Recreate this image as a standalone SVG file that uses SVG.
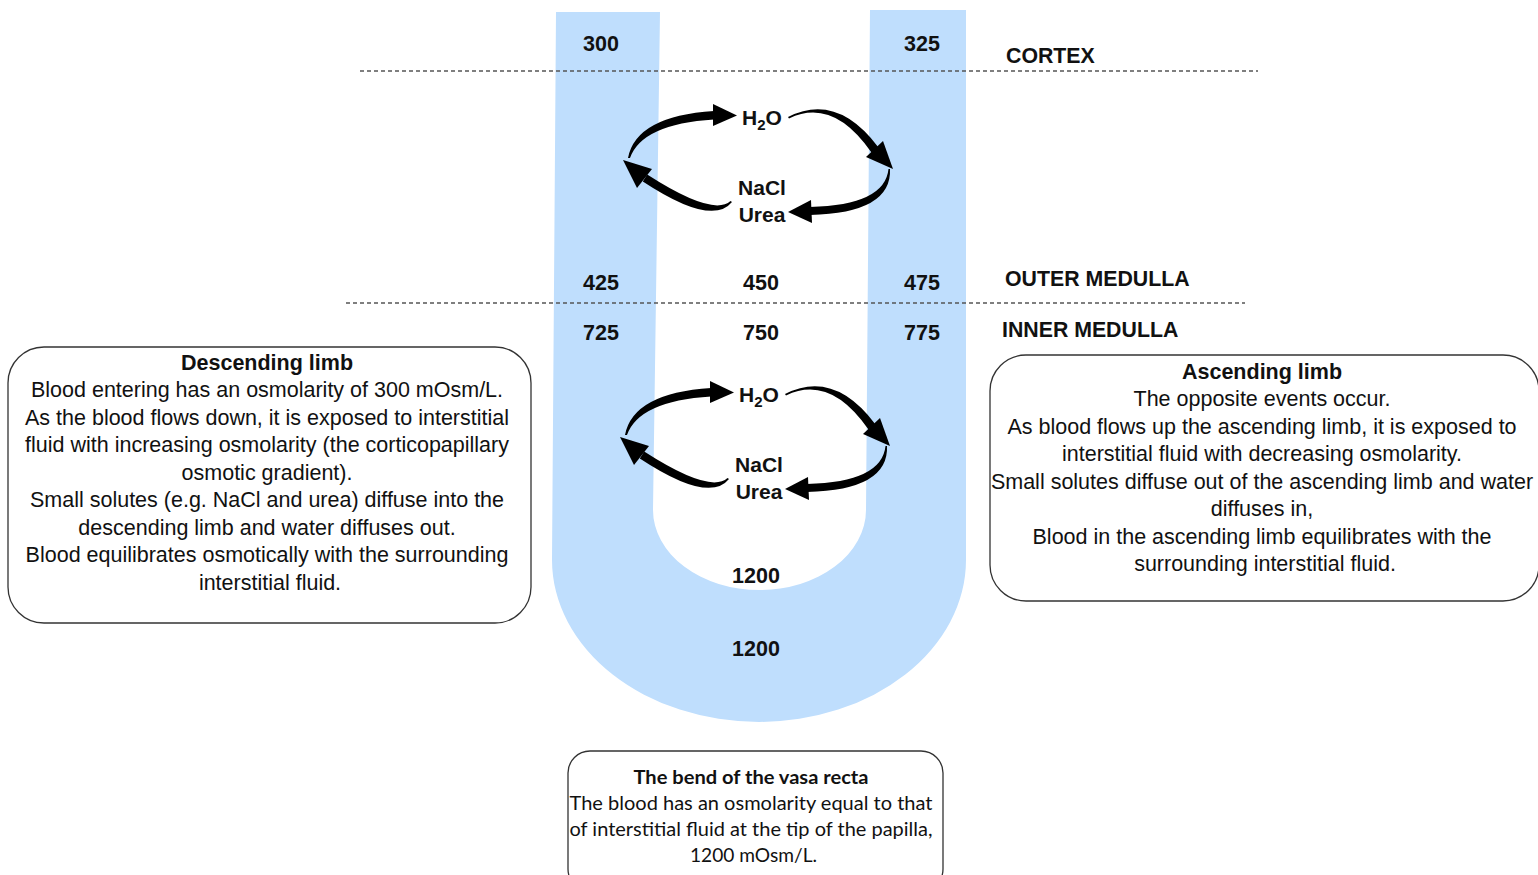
<svg xmlns="http://www.w3.org/2000/svg" width="1538" height="875" viewBox="0 0 1538 875">
  <style>
    .vessel { fill: #bfdefd; }
    .zone { stroke: #555; stroke-width: 1.5; stroke-dasharray: 4 3; fill: none; }
    .num { font-family: "Liberation Sans", Arial, sans-serif; font-weight: bold; font-size: 21.5px; fill: #111; text-anchor: middle; }
    .zlabel { font-family: "Liberation Sans", Arial, sans-serif; font-weight: bold; font-size: 21.3px; fill: #111; }
    .chem { font-family: "Liberation Sans", Arial, sans-serif; font-weight: bold; font-size: 21px; fill: #111; text-anchor: middle; }
    .sub { font-size: 15px; }
    .flow { fill: #000; }
    .box { fill: #fff; stroke: #333; stroke-width: 1.3; }
    .note { font-family: "Liberation Sans", Arial, sans-serif; font-size: 21.5px; fill: #111; text-anchor: middle; }
    .note .t { font-weight: bold; }
    .note2 { font-family: Lato, "Open Sans", sans-serif; font-size: 19.5px; fill: #111; text-anchor: middle; }
    .note2 .t { font-weight: bold; }
  </style>

  <!-- vasa recta: U-shaped vessel -->
  <g id="vasa-recta">
    <path class="vessel" d="M556,12 L660,12 L653,510 A106.5,80 0 0 0 866,510 L870,10 L966,10 L966,560 A207,162 0 0 1 552,560 Z"/>
  </g>

  <!-- zone boundaries -->
  <g id="zone-lines">
    <line class="zone" x1="360" y1="71" x2="1258" y2="71"/>
    <line class="zone" x1="346" y1="303" x2="1245" y2="303"/>
  </g>

  <g id="zone-labels">
    <text class="zlabel" x="1006" y="63">CORTEX</text>
    <text class="zlabel" x="1005" y="286">OUTER MEDULLA</text>
    <text class="zlabel" x="1002" y="337">INNER MEDULLA</text>
  </g>

  <!-- osmolarity values (mOsm/L) -->
  <g id="osmolarities">
    <text class="num" x="601" y="51">300</text>
    <text class="num" x="922" y="51">325</text>
    <text class="num" x="601" y="290">425</text>
    <text class="num" x="761" y="290">450</text>
    <text class="num" x="922" y="290">475</text>
    <text class="num" x="601" y="340">725</text>
    <text class="num" x="761" y="340">750</text>
    <text class="num" x="922" y="340">775</text>
    <text class="num" x="756" y="583">1200</text>
    <text class="num" x="756" y="656">1200</text>
  </g>

  <!-- exchange labels, cortex/outer medulla level -->
  <g id="exchange-upper">
    <text class="chem" x="762" y="125">H<tspan class="sub" dy="5">2</tspan><tspan dy="-5">O</tspan></text>
    <text class="chem" x="762" y="195">NaCl</text>
    <text class="chem" x="762" y="222">Urea</text>
  </g>

  <!-- exchange labels, inner medulla level -->
  <g id="exchange-lower" transform="translate(-3,277)">
    <text class="chem" x="762" y="125">H<tspan class="sub" dy="5">2</tspan><tspan dy="-5">O</tspan></text>
    <text class="chem" x="762" y="195">NaCl</text>
    <text class="chem" x="762" y="222">Urea</text>
  </g>

  <!-- tapered exchange arrows -->
  <defs>
    <g id="cycle">
      <path class="flow" d="M628,158 Q636,116 714,111 L714,119.5 Q642,124 630,158 Z"/>
      <path class="flow" d="M713,104 L737,115.5 L713,126 Z"/>
      <path class="flow" d="M788,117 Q837,92 878.5,147.4 L871.5,152.6 Q833,97 789,118.5 Z"/>
      <path class="flow" d="M883,141 L893,169 L866,157 Z"/>
      <path class="flow" d="M890,169 Q892,213 810,215 L810,207 Q885,205 888.5,169 Z"/>
      <path class="flow" d="M811,200 L788,212 L812,223 Z"/>
      <path class="flow" d="M732,202 Q712,227 642.8,181.4 L647.2,174.6 Q713,217 730.5,201 Z"/>
      <path class="flow" d="M652,169 L623,160 L637,188 Z"/>
    </g>
  </defs>
  <g id="connectors">
    <use href="#cycle"/>
    <use href="#cycle" transform="translate(-3,277)"/>
  </g>

  <!-- descending limb note -->
  <g id="descending-note">
    <rect class="box" x="8" y="347" width="523" height="276" rx="36"/>
    <text class="note">
      <tspan class="t" x="270" y="369.5">Descending limb</tspan>
      <tspan x="270" y="397">Blood entering has an osmolarity of 300 mOsm/L.</tspan>
      <tspan x="270" y="424.5">As the blood flows down, it is exposed to interstitial</tspan>
      <tspan x="270" y="452">fluid with increasing osmolarity (the corticopapillary</tspan>
      <tspan x="270" y="479.5">osmotic gradient).</tspan>
      <tspan x="270" y="507">Small solutes (e.g. NaCl and urea) diffuse into the</tspan>
      <tspan x="270" y="534.5">descending limb and water diffuses out.</tspan>
      <tspan x="270" y="562">Blood equilibrates osmotically with the surrounding</tspan>
      <tspan x="270" y="589.5">interstitial fluid.</tspan>
    </text>
  </g>

  <!-- ascending limb note -->
  <g id="ascending-note">
    <rect class="box" x="990" y="355" width="549" height="246" rx="36"/>
    <text class="note">
      <tspan class="t" x="1265" y="378.5">Ascending limb</tspan>
      <tspan x="1265" y="406">The opposite events occur.</tspan>
      <tspan x="1265" y="433.5">As blood flows up the ascending limb, it is exposed to</tspan>
      <tspan x="1265" y="461">interstitial fluid with decreasing osmolarity.</tspan>
      <tspan x="1265" y="488.5">Small solutes diffuse out of the ascending limb and water</tspan>
      <tspan x="1265" y="516">diffuses in,</tspan>
      <tspan x="1265" y="543.5">Blood in the ascending limb equilibrates with the</tspan>
      <tspan x="1265" y="571">surrounding interstitial fluid.</tspan>
    </text>
  </g>

  <!-- bend note -->
  <g id="bend-note">
    <rect class="box" x="568" y="751" width="375" height="140" rx="22"/>
    <text class="note2">
      <tspan class="t" x="753.5" y="784" textLength="235" lengthAdjust="spacingAndGlyphs">The bend of the vasa recta</tspan>
      <tspan x="753.5" y="810" textLength="363" lengthAdjust="spacingAndGlyphs">The blood has an osmolarity equal to that</tspan>
      <tspan x="753.5" y="836" textLength="363" lengthAdjust="spacingAndGlyphs">of interstitial fluid at the tip of the papilla,</tspan>
      <tspan x="753.5" y="862" textLength="127" lengthAdjust="spacingAndGlyphs">1200 mOsm/L.</tspan>
    </text>
  </g>
</svg>
